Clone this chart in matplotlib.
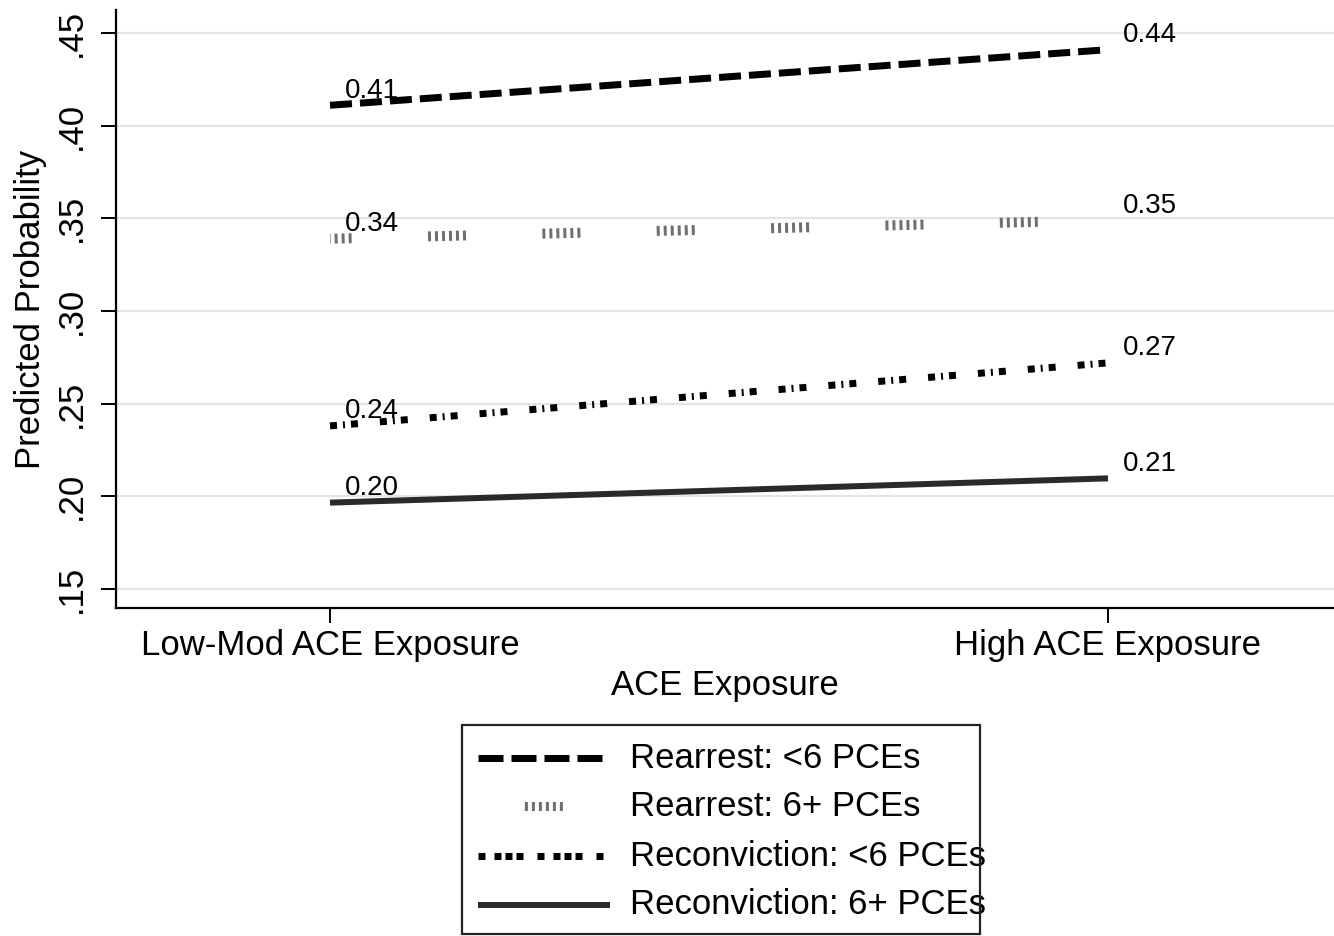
import matplotlib
matplotlib.use("Agg")
import matplotlib.pyplot as plt
from matplotlib.lines import Line2D
from matplotlib.patches import Rectangle

plt.rcParams['font.family'] = ['Liberation Sans', 'DejaVu Sans']
plt.rcParams['lines.scale_dashes'] = False

# ---- data ----
categories = ["Low-Mod ACE Exposure", "High ACE Exposure"]
series_names = ["Rearrest: <6 PCEs", "Rearrest: 6+ PCEs",
                "Reconviction: <6 PCEs", "Reconviction: 6+ PCEs"]
rearrest_lt6 = [0.411, 0.441]
rearrest_6p = [0.339, 0.349]
reconv_lt6 = [0.238, 0.272]
reconv_6p = [0.1966, 0.2097]
yticks = [0.15, 0.20, 0.25, 0.30, 0.35, 0.40, 0.45]
ytick_labels = [".15", ".20", ".25", ".30", ".35", ".40", ".45"]

W, H = 1334, 936
fig = plt.figure(figsize=(W / 100, H / 100), dpi=100)
ax = fig.add_axes([116 / W, 1 - 608 / H, (W - 116) / W, (608 - 10) / H])

P = 0.72  # px -> pt


def px(seq):
    return [v * P for v in seq]


grp = [3, 4] * 5 + [3, 4 + 72.4]
styles = [
    dict(color="black", lw=7 * P, dashes=px([22, 8]), dash_capstyle="butt"),
    dict(color="#6f6f6f", lw=10 * P, linestyle=(16.4 * P, px(grp)), dash_capstyle="butt"),
    dict(color="black", lw=7 * P, dashes=px([7, 6, 2, 6, 7, 22]), dash_capstyle="butt"),
    dict(color="#2a2a2a", lw=6 * P, linestyle="-", solid_capstyle="butt"),
]
series = [rearrest_lt6, rearrest_6p, reconv_lt6, reconv_6p]
x = list(range(len(categories)))

for vals, st in zip(series, styles):
    ax.plot(x, vals, **st, zorder=3)
    for xi, v in zip(x, vals):
        ax.annotate(f"{v:.2f}", (xi, v), xytext=(11, 10.5), textcoords="offset points",
                    ha="left", va="center", fontsize=20, zorder=4)

ax.set_xlim(-0.2751, 1.2905)
ax.set_ylim(0.13975, 0.4624)
ax.set_xticks(x)
ax.set_xticklabels(categories, fontsize=25)
ax.set_yticks(yticks)
ax.set_yticklabels(ytick_labels, fontsize=25, rotation=90, va="center")
ax.tick_params(axis="y", length=11, width=1.4, pad=9)
ax.tick_params(axis="x", length=11, width=1.4, pad=4)
ax.grid(axis="y", color="#e4e4e4", lw=1.6, zorder=0)
ax.set_axisbelow(True)
for s in ["top", "right"]:
    ax.spines[s].set_visible(False)
for s in ["left", "bottom"]:
    ax.spines[s].set_linewidth(1.6)
ax.set_xlabel("ACE Exposure", fontsize=25, labelpad=5)
ax.set_ylabel("Predicted Probability", fontsize=25, labelpad=6)

# ---- legend (manual, figure pixel coordinates) ----
def fx(v):
    return v / W


def fy(v):
    return 1 - v / H


fig.add_artist(Rectangle((fx(462), fy(934)), fx(980) - fx(462), fy(725) - fy(934),
                         transform=fig.transFigure, fill=False, edgecolor="#222222",
                         lw=1.6, zorder=5))
rows_y = [758, 806, 856, 905]
leg_styles = [
    dict(color="black", lw=7 * P, dashes=px([25, 8]), dash_capstyle="butt"),
    dict(color="#6f6f6f", lw=9 * P, linestyle=(68 * P, px(grp)), dash_capstyle="butt"),
    dict(color="black", lw=7 * P, dashes=px([7, 9, 7, 4, 7, 4, 7, 14]), dash_capstyle="butt"),
    dict(color="#2a2a2a", lw=6 * P, linestyle="-", solid_capstyle="butt"),
]
for name, ry, st in zip(series_names, rows_y, leg_styles):
    fig.add_artist(Line2D([fx(478), fx(610)], [fy(ry), fy(ry)],
                          transform=fig.transFigure, **st))
    fig.text(fx(630), fy(ry), name, fontsize=25, ha="left", va="center")

fig.savefig("out.png", dpi=100)
